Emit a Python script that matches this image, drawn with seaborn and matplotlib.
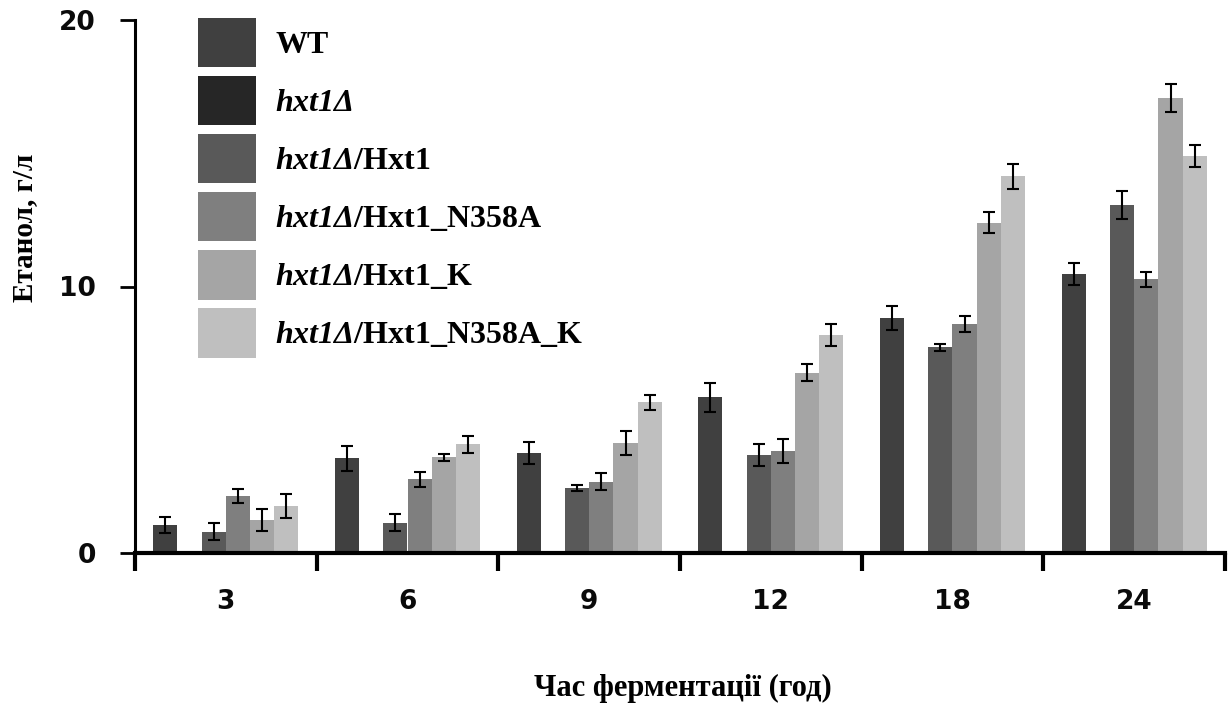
import matplotlib
matplotlib.use('Agg')
import matplotlib.pyplot as plt
import seaborn as sns
import pandas as pd
import numpy as np

# ---- data ----
hours = ['3', '6', '9', '12', '18', '24']
strains = ['WT', 'hxt1Δ', 'hxt1Δ/Hxt1', 'hxt1Δ/Hxt1_N358A',
           'hxt1Δ/Hxt1_K', 'hxt1Δ/Hxt1_N358A_K']
legend_labels = ['WT', r'$hxt1Δ$', r'$hxt1Δ$/Hxt1',
                 r'$hxt1Δ$/Hxt1_N358A', r'$hxt1Δ$/Hxt1_K',
                 r'$hxt1Δ$/Hxt1_N358A_K']

wt = [1.05, 3.55, 3.74, 5.84, 8.83, 10.47]
hxt1 = [0, 0, 0, 0, 0, 0]
hxt1_hxt1 = [0.80, 1.14, 2.44, 3.69, 7.72, 13.06]
hxt1_n358a = [2.15, 2.76, 2.68, 3.83, 8.59, 10.27]
hxt1_k = [1.23, 3.59, 4.13, 6.77, 12.40, 17.06]
hxt1_n358a_k = [1.76, 4.08, 5.65, 8.18, 14.13, 14.89]

wt_err = [0.31, 0.46, 0.41, 0.54, 0.45, 0.41]
hxt1_err = [0, 0, 0, 0, 0, 0]
hxt1_hxt1_err = [0.31, 0.32, 0.12, 0.41, 0.13, 0.53]
hxt1_n358a_err = [0.26, 0.27, 0.31, 0.46, 0.31, 0.28]
hxt1_k_err = [0.41, 0.13, 0.46, 0.32, 0.41, 0.53]
hxt1_n358a_k_err = [0.46, 0.32, 0.27, 0.41, 0.46, 0.41]

colors = ['#404040', '#262626', '#595959', '#7f7f7f', '#a5a5a5', '#bfbfbf']

series = [wt, hxt1, hxt1_hxt1, hxt1_n358a, hxt1_k, hxt1_n358a_k]
errors = [wt_err, hxt1_err, hxt1_hxt1_err, hxt1_n358a_err, hxt1_k_err, hxt1_n358a_k_err]

rows = []
for s, vals in zip(strains, series):
    for h, v in zip(hours, vals):
        rows.append({'hour': h, 'strain': s, 'value': v})
df = pd.DataFrame(rows)

# ---- style ----
sns.set_theme(style='ticks')
plt.rcParams['font.family'] = ['Liberation Serif', 'DejaVu Serif']
plt.rcParams['text.color'] = 'black'
plt.rcParams['mathtext.fontset'] = 'custom'
plt.rcParams['mathtext.it'] = 'Liberation Serif:italic:bold'
plt.rcParams['mathtext.rm'] = 'Liberation Serif:italic:bold'
plt.rcParams['mathtext.bf'] = 'Liberation Serif:italic:bold'

fig = plt.figure(figsize=(12.32, 7.06), dpi=100)
ax = fig.add_axes([135 / 1232, 1 - 553 / 706, (1225 - 135) / 1232, (553 - 20) / 706])

sns.barplot(data=df, x='hour', y='value', hue='strain', hue_order=strains,
            order=hours, palette=colors, width=0.8, errorbar=None,
            saturation=1, linewidth=0, ax=ax)

for cont, errs in zip(ax.containers, errors):
    xs, ys, es = [], [], []
    for p, e in zip(cont.patches, errs):
        if p.get_height() > 0:
            xs.append(p.get_x() + p.get_width() / 2)
            ys.append(p.get_height())
            es.append(e)
    if xs:
        ax.errorbar(xs, ys, yerr=es, fmt='none', ecolor='black',
                    elinewidth=1.5, capsize=4.5, capthick=1.5, zorder=5)

ax.set_ylim(0, 20)
ax.set_xlim(-0.5, 5.5)
ax.set_yticks([0, 10, 20])
ax.set_xticks(np.arange(-0.5, 6, 1), minor=True)
ax.tick_params(axis='x', which='major', length=0, pad=26)
ax.tick_params(axis='x', which='minor', length=13, width=3, color='black', direction='out')
ax.tick_params(axis='y', which='major', length=11, width=2, color='black', direction='out', pad=17)
for lab in ax.get_xticklabels() + ax.get_yticklabels():
    lab.set_fontfamily('DejaVu Sans')
    lab.set_fontweight('bold')
    lab.set_fontsize(19)
    lab.set_color('#0a0a0a')

for side in ['top', 'right']:
    ax.spines[side].set_visible(False)
ax.spines['left'].set_linewidth(2.2)
ax.spines['bottom'].set_linewidth(3)
ax.spines['left'].set_color('black')
ax.spines['bottom'].set_color('black')
ax.set_xlabel('')
ax.set_ylabel('')

handles, _ = ax.get_legend_handles_labels()
leg = ax.legend(handles, legend_labels, loc='upper left',
                bbox_to_anchor=(198 / 1232, 1 - 18 / 706), bbox_transform=fig.transFigure,
                frameon=False, borderpad=0, borderaxespad=0,
                handlelength=1.82, handleheight=1.99, labelspacing=0.28,
                handletextpad=0.6, labelcolor='black',
                prop={'family': 'Liberation Serif', 'weight': 'bold', 'size': 23})

fig.text(25 / 1232, 1 - 228 / 706, 'Етанол, г/л', rotation=90, ha='center', va='center',
         fontsize=21, fontweight='bold', family='Liberation Serif', color='black')
fig.text(683 / 1232, 1 - 688 / 706, 'Час ферментації (год)', ha='center', va='center',
         fontsize=22, fontweight='bold', family='Liberation Serif', color='black')

fig.savefig('out.png', dpi=100, facecolor='white')
